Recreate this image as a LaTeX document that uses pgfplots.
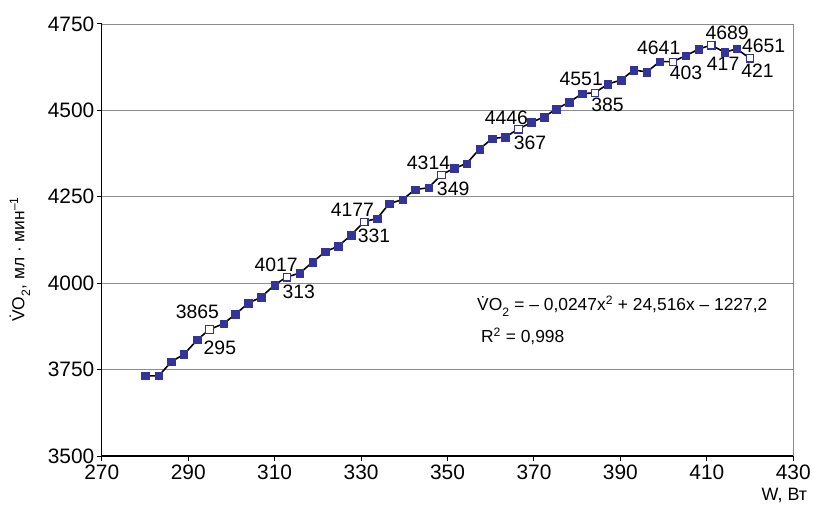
\documentclass[border=0pt]{standalone}
\usepackage{fontspec}
\setmainfont{Liberation Sans}
\usepackage{pgfplots}
\usepackage{pgfplotstable}
\pgfplotsset{compat=1.18}
\definecolor{navy}{HTML}{333399}
\definecolor{gridc}{HTML}{8C8C8C}
\pgfplotstableread{
x y
280.1 3732
283.2 3732
286.1 3773
289.0 3794
292.1 3836
294.9 3866
298.2 3883
300.9 3910
303.9 3942
306.9 3960
310.0 3995
312.8 4018
315.8 4029
318.8 4061
321.7 4091
324.7 4107
327.7 4139
330.7 4178
333.7 4187
336.5 4230
339.6 4242
342.5 4271
345.6 4276
348.6 4314
351.5 4332
354.4 4346
357.4 4388
360.3 4418
363.4 4423
366.4 4446
369.4 4465
372.3 4481
375.2 4504
378.2 4524
381.1 4548
384.1 4551
387.1 4576
390.2 4588
393.1 4617
396.1 4611
399.1 4641
402.1 4641
405.1 4658
408.1 4677
411.0 4689
414.1 4668
416.9 4678
419.9 4651
}\alldata
\pgfplotstableread{
x y
294.9 3866
312.8 4018
330.7 4178
348.6 4314
366.4 4446
384.1 4551
402.1 4641
411.0 4689
419.9 4651
}\opendata
\begin{document}
\begin{tikzpicture}
\begin{axis}[
  scale only axis, width=693bp, height=433bp,
  xmin=270, xmax=430, ymin=3500, ymax=4750,
  xtick={270,290,...,430}, ytick={3500,3750,...,4750},
  axis x line*=bottom, axis y line*=left,
  axis line style={black, line width=1.4bp},
  ymajorgrids, grid style={gridc, line width=0.8bp},
  tick align=outside, major tick length=5bp,
  tick style={black, line width=1bp},
  /pgf/number format/assume math mode=true,
  /pgf/number format/set thousands separator={},
  ticklabel style={font=\fontsize{21}{24}\selectfont},
  yticklabel style={xshift=1bp},
  clip=false,
]
\addplot[black, line width=1.6bp, no marks] table[x=x,y=y]{\alldata};
\addplot[only marks, mark=square*, mark size=3.8bp, mark options={fill=navy, draw=navy}] table[x=x,y=y]{\alldata};
\addplot[only marks, mark=square*, mark size=3.6bp, mark options={fill=white, draw=navy, line width=0.9bp}] table[x=x,y=y]{\opendata};
\draw[gridc, line width=0.8bp] (rel axis cs:1,0) -- (rel axis cs:1,1);
\draw[gridc, line width=0.8bp] (rel axis cs:0,1) -- (rel axis cs:1,1);
\begin{scope}[every node/.style={font=\fontsize{19.5}{22}\selectfont, inner sep=0pt}]
\node at ([xshift=-12bp,yshift=18bp]axis cs:294.9,3866) {3865};
\node at ([xshift=10.5bp,yshift=-18bp]axis cs:294.9,3866) {295};
\node at ([xshift=-10.6bp,yshift=12bp]axis cs:312.8,4018) {4017};
\node at ([xshift=12bp,yshift=-15bp]axis cs:312.8,4018) {313};
\node at ([xshift=-11.7bp,yshift=11.7bp]axis cs:330.7,4178) {4177};
\node at ([xshift=10bp,yshift=-14.5bp]axis cs:330.7,4178) {331};
\node at ([xshift=-13bp,yshift=11.7bp]axis cs:348.6,4314) {4314};
\node at ([xshift=11.7bp,yshift=-14bp]axis cs:348.6,4314) {349};
\node at ([xshift=-12bp,yshift=11bp]axis cs:366.4,4446) {4446};
\node at ([xshift=11.7bp,yshift=-13.4bp]axis cs:366.4,4446) {367};
\node at ([xshift=-13.7bp,yshift=13.4bp]axis cs:384.1,4551) {4551};
\node at ([xshift=12.7bp,yshift=-12.3bp]axis cs:384.1,4551) {385};
\node at ([xshift=-14bp,yshift=13.4bp]axis cs:402.1,4641) {4641};
\node at ([xshift=13.3bp,yshift=-11.6bp]axis cs:402.1,4641) {403};
\node at ([xshift=16bp,yshift=12bp]axis cs:411.0,4689) {4689};
\node at ([xshift=12bp,yshift=-19bp]axis cs:411.0,4689) {417};
\node at ([xshift=14bp,yshift=12bp]axis cs:419.9,4651) {4651};
\node at ([xshift=8bp,yshift=-13bp]axis cs:419.9,4651) {421};
\end{scope}
\end{axis}
\path[use as bounding box] (-102bp,-58bp) rectangle (712bp,457bp);
\node[rotate=90, font=\fontsize{17.5}{20}\selectfont, inner sep=0pt] at (-82bp,197bp) {\.{V}O\raisebox{-0.35ex}{\textsubscript{2}}, мл · мин\textsuperscript{–1}};
\node[anchor=east, font=\fontsize{18}{21}\selectfont, inner sep=0pt] at (707bp,-40bp) {W, Вт};
\node[anchor=west, font=\fontsize{17.5}{21}\selectfont, inner sep=0pt] at (376bp,150bp) {\.{V}O\raisebox{-0.35ex}{\textsubscript{2}} = – 0,0247x\textsuperscript{2} + 24,516x – 1227,2};
\node[anchor=west, font=\fontsize{17.5}{21}\selectfont, inner sep=0pt] at (380bp,120bp) {R\textsuperscript{2} = 0,998};
\end{tikzpicture}
\end{document}
